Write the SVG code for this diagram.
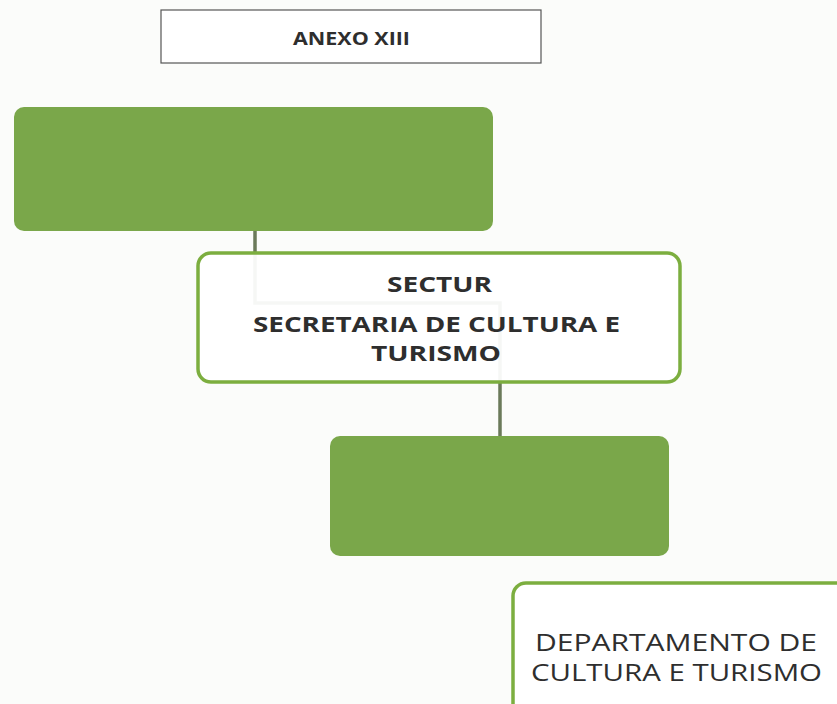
<svg xmlns="http://www.w3.org/2000/svg" width="837" height="704" viewBox="0 0 837 704">
<style>
.green{fill:#7aa74a;}
.outline{fill:#ffffff;fill-opacity:0.94;stroke:#7cae3f;stroke-width:3.5;}
.conn{fill:none;stroke:#6b7a5a;stroke-width:3.5;}
.t{font-family:"Open Sans","Liberation Sans",sans-serif;fill:#2e2e2e;}
.b{font-weight:bold;}
</style>
<rect x="0" y="0" width="837" height="704" fill="#fbfcfa"/>
<g id="connectors">
<path class="conn" d="M255 231 V303 H500 V436"/>
</g>
<g id="anexo">
<rect x="161" y="10" width="380" height="53" fill="#ffffff" stroke="#555555" stroke-width="1.2"/>
<text class="t b" x="293" y="45" font-size="17" textLength="117" lengthAdjust="spacingAndGlyphs">ANEXO XIII</text>
</g>
<g id="green1">
<rect class="green" x="14" y="107" width="479" height="124" rx="10"/>
</g>
<g id="sectur">
<rect class="outline" x="198" y="253" width="482" height="129" rx="13"/>
<text class="t b" x="387" y="292" font-size="21" textLength="105" lengthAdjust="spacingAndGlyphs">SECTUR</text>
<text class="t b" x="253" y="332" font-size="21" textLength="367" lengthAdjust="spacingAndGlyphs">SECRETARIA DE CULTURA E</text>
<text class="t b" x="371" y="361" font-size="21" textLength="130" lengthAdjust="spacingAndGlyphs">TURISMO</text>
</g>
<g id="green2">
<rect class="green" x="330" y="436" width="339" height="120" rx="10"/>
</g>
<g id="departamento">
<rect class="outline" x="513" y="583" width="345" height="140" rx="13"/>
<text class="t" x="535" y="651" font-size="23" textLength="282" lengthAdjust="spacingAndGlyphs">DEPARTAMENTO DE</text>
<text class="t" x="531" y="681" font-size="23" textLength="291" lengthAdjust="spacingAndGlyphs">CULTURA E TURISMO</text>
</g>
</svg>
